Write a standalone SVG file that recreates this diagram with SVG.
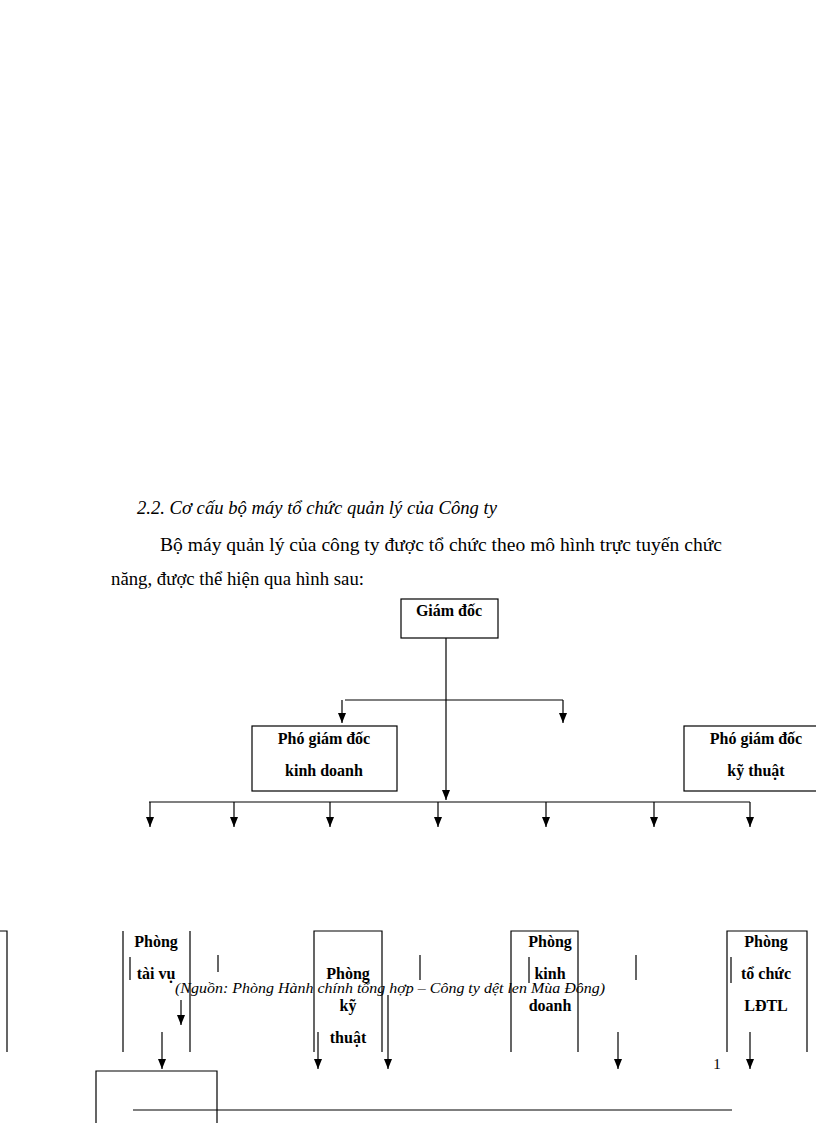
<svg xmlns="http://www.w3.org/2000/svg" width="816" height="1123" viewBox="0 0 816 1123">
<style>
text{font-family:"Liberation Serif",serif;fill:#000}
.n{font-size:16px;font-weight:bold;text-anchor:middle}
.b{fill:none;stroke:#000;stroke-width:1.2}
.l{stroke:#000;stroke-width:1.2;fill:none}
</style>
<defs>
<marker id="d" markerWidth="8" markerHeight="10" refX="4" refY="10" markerUnits="userSpaceOnUse" viewBox="0 0 8 10"><path d="M0,0L8,0L4,10z" fill="#000"/></marker></defs>
<rect width="816" height="1123" fill="#fff"/>
<text x="137" y="514" font-size="18" font-style="italic" textLength="360" lengthAdjust="spacingAndGlyphs">2.2. Cơ cấu bộ máy tổ chức quản lý của Công ty</text>
<text x="160" y="551" font-size="18" textLength="562" lengthAdjust="spacingAndGlyphs">Bộ máy quản lý của công ty được tổ chức theo mô hình trực tuyến chức</text>
<text x="111" y="585" font-size="18" textLength="253" lengthAdjust="spacingAndGlyphs">năng, được thể hiện qua hình sau:</text>
<g id="giamdoc"><rect class="b" x="401" y="599" width="97" height="39"/><text class="n" x="449" y="616">Giám đốc</text></g>
<g id="pgd-kd"><rect class="b" x="252" y="726" width="145" height="65"/><text class="n" x="324" y="744">Phó giám đốc</text><text class="n" x="324" y="776">kinh doanh</text></g>
<g id="pgd-kt"><rect class="b" x="684" y="726" width="140" height="65"/><text class="n" x="756" y="744">Phó giám đốc</text><text class="n" x="756" y="776">kỹ thuật</text></g>
<g id="connectors">
<path class="l" d="M446,638V800" marker-end="url(#d)"/>
<path class="l" d="M345,700H563"/>
<path class="l" d="M342,700V723" marker-end="url(#d)"/>
<path class="l" d="M563,700V723" marker-end="url(#d)"/>
<path class="l" d="M149,802H750"/>
<path class="l" d="M150,802V827" marker-end="url(#d)"/>
<path class="l" d="M234,802V827" marker-end="url(#d)"/>
<path class="l" d="M330,802V827" marker-end="url(#d)"/>
<path class="l" d="M438,802V827" marker-end="url(#d)"/>
<path class="l" d="M546,802V827" marker-end="url(#d)"/>
<path class="l" d="M654,802V827" marker-end="url(#d)"/>
<path class="l" d="M750,802V827" marker-end="url(#d)"/>
<path class="l" d="M0,931H7V1052"/>
<path class="l" d="M123,931V1052M190,931V1052M130,957V980M218,955V972M420,955V980M529,957V983M636,955V980M731,957V983"/>
<path class="l" d="M181,1000V1025" marker-end="url(#d)"/>
<path class="l" d="M162,1032V1069" marker-end="url(#d)"/>
<path class="l" d="M318,1032V1069" marker-end="url(#d)"/>
<path class="l" d="M388,995V1069" marker-end="url(#d)"/>
<path class="l" d="M618,1032V1069" marker-end="url(#d)"/>
<path class="l" d="M750,1032V1069" marker-end="url(#d)"/>
<path class="l" d="M96,1123V1071H217V1123"/>
<path class="l" d="M133,1110H732"/>
</g>
<g id="taivu"><text class="n" x="156" y="947">Phòng</text><text class="n" x="156" y="979">tài vụ</text></g>
<g id="kythuat"><path class="l" d="M314,1052V931H382V1052"/><text class="n" x="348" y="979">Phòng</text><text class="n" x="348" y="1011">kỹ</text><text class="n" x="348" y="1043">thuật</text></g>
<g id="kinhdoanh"><path class="l" d="M511,1052V931H578V1052"/><text class="n" x="550" y="947">Phòng</text><text class="n" x="550" y="979">kinh</text><text class="n" x="550" y="1011">doanh</text></g>
<g id="tochuc"><path class="l" d="M727,1052V931H807V1052"/><text class="n" x="766" y="947">Phòng</text><text class="n" x="766" y="979">tổ chức</text><text class="n" x="766" y="1011">LĐTL</text></g>
<text x="175" y="993" font-size="15" font-style="italic" textLength="430" lengthAdjust="spacingAndGlyphs">(Nguồn: Phòng Hành chính tổng hợp – Công ty dệt len Mùa Đông)</text>
<text x="717" y="1069" font-size="15" text-anchor="middle">1</text>
</svg>
